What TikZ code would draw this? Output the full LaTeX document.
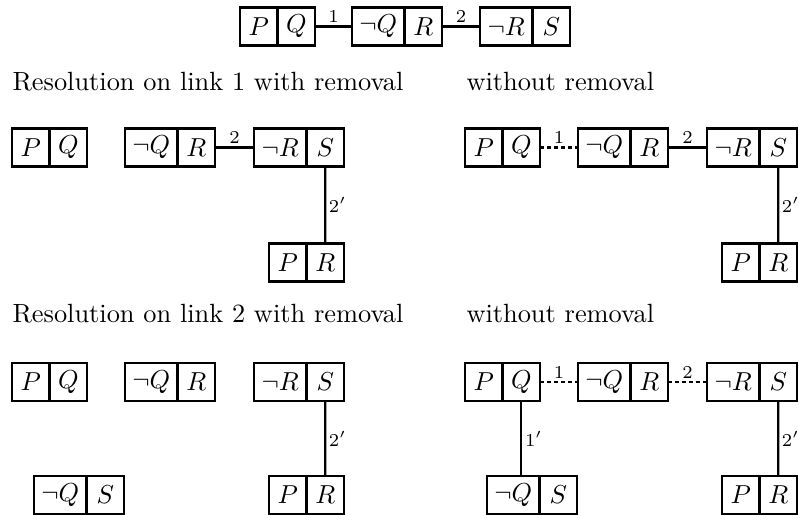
\documentclass[tikz,border=0pt]{standalone}
\usetikzlibrary{positioning}
\tikzset{
  cell/.style={draw, line width=0.9pt, minimum height=14.6pt, inner sep=0pt, outer sep=0pt, anchor=west},
  nar/.style={cell, minimum width=14.45pt},
  wid/.style={cell, minimum width=20.2pt},
  lnk/.style={line width=0.85pt},
  dlnk/.style={line width=0.85pt, dash pattern=on 1.6pt off 1.1pt},
  lab/.style={font=\scriptsize, inner sep=1pt},
  captxt/.style={anchor=base west, inner sep=0pt, font=\fontsize{10.15pt}{12pt}\selectfont}
}
\begin{document}
\begin{tikzpicture}[x=0.385pt, y=-0.385pt]
\useasboundingbox (0,0) rectangle (799,515);
% ---------- top row ----------
\node[nar] (tp) at (240,26.5) {$P$};
\node[nar] (tq) at (tp.east) {$Q$};
\node[wid] (tnq) at (352,26.5) {$\neg Q$};
\node[nar] (tr) at (tnq.east) {$R$};
\node[wid] (tnr) at (480,26.5) {$\neg R$};
\node[nar] (ts) at (tnr.east) {$S$};
\draw[lnk] (tq.east) -- node[lab, above] {1} (tnq.west);
\draw[lnk] (tr.east) -- node[lab, above] {2} (tnr.west);
% ---------- captions ----------
\node[captxt] (c1) at (12,91) {Resolution on link 1 with removal};
\node[captxt] (c2) at (466,91) {without removal};
\node[captxt] (c3) at (12,322) {Resolution on link 2 with removal};
\node[captxt] (c4) at (466,322) {without removal};
% ---------- row 2 left ----------
\node[nar] (ap) at (12,147.5) {$P$};
\node[nar] (aq) at (ap.east) {$Q$};
\node[wid] (anq) at (125,147.5) {$\neg Q$};
\node[nar] (ar) at (anq.east) {$R$};
\node[wid] (anr) at (254,147.5) {$\neg R$};
\node[nar] (as) at (anr.east) {$S$};
\node[nar] (app) at (269,262.5) {$P$};
\node[nar] (apr) at (app.east) {$R$};
\draw[lnk] (ar.east) -- node[lab, above] {2} (anr.west);
\draw[lnk] (as.south) -- node[lab, right] {$2'$} (apr.north);
% ---------- row 2 right ----------
\node[nar] (bp) at (465,147.5) {$P$};
\node[nar] (bq) at (bp.east) {$Q$};
\node[wid] (bnq) at (578,147.5) {$\neg Q$};
\node[nar] (br) at (bnq.east) {$R$};
\node[wid] (bnr) at (707,147.5) {$\neg R$};
\node[nar] (bs) at (bnr.east) {$S$};
\node[nar] (bpp) at (722,262.5) {$P$};
\node[nar] (bpr) at (bpp.east) {$R$};
\draw[dlnk] (bq.east) -- node[lab, above] {1} (bnq.west);
\draw[lnk] (br.east) -- node[lab, above] {2} (bnr.west);
\draw[lnk] (bs.south) -- node[lab, right] {$2'$} (bpr.north);
% ---------- row 3 left ----------
\node[nar] (cp) at (12,382) {$P$};
\node[nar] (cq) at (cp.east) {$Q$};
\node[wid] (cnq) at (125,382) {$\neg Q$};
\node[nar] (cr) at (cnq.east) {$R$};
\node[wid] (cnr) at (254,382) {$\neg R$};
\node[nar] (cs) at (cnr.east) {$S$};
\node[wid] (cqq) at (34,495) {$\neg Q$};
\node[nar] (cqs) at (cqq.east) {$S$};
\node[nar] (cpp) at (269,495) {$P$};
\node[nar] (cpr) at (cpp.east) {$R$};
\draw[lnk] (cs.south) -- node[lab, right] {$2'$} (cpr.north);
% ---------- row 3 right ----------
\node[nar] (dp) at (465,382) {$P$};
\node[nar] (dq) at (dp.east) {$Q$};
\node[wid] (dnq) at (578,382) {$\neg Q$};
\node[nar] (dr) at (dnq.east) {$R$};
\node[wid] (dnr) at (707,382) {$\neg R$};
\node[nar] (ds) at (dnr.east) {$S$};
\node[wid] (dqq) at (487,495) {$\neg Q$};
\node[nar] (dqs) at (dqq.east) {$S$};
\node[nar] (dpp) at (722,495) {$P$};
\node[nar] (dpr) at (dpp.east) {$R$};
\draw[dlnk] (dq.east) -- node[lab, above] {1} (dnq.west);
\draw[dlnk] (dr.east) -- node[lab, above] {2} (dnr.west);
\draw[lnk] (dq.south) -- node[lab, right] {$1'$} (dq.south |- dqq.north);
\draw[lnk] (ds.south) -- node[lab, right] {$2'$} (dpr.north);
\end{tikzpicture}
\end{document}
